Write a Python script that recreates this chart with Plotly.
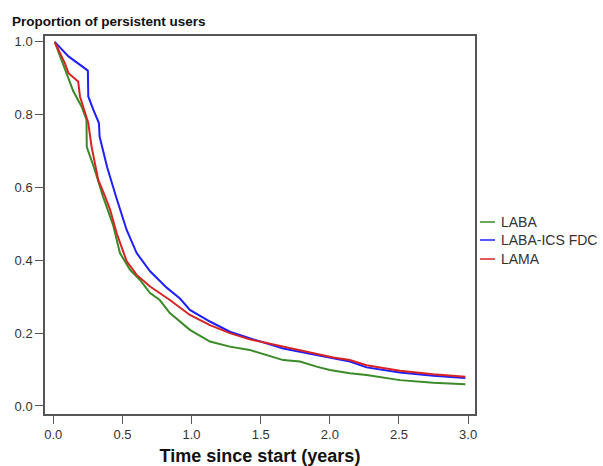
import plotly.graph_objects as go

# Kaplan-Meier style persistence curves
laba_t = [0.01, 0.072, 0.145, 0.205, 0.24, 0.242, 0.30, 0.36, 0.434, 0.482, 0.555, 0.627,
          0.70, 0.77, 0.843, 0.988, 1.133, 1.277, 1.42, 1.663, 1.784, 1.904, 2.0, 2.145,
          2.266, 2.507, 2.748, 2.98]
laba_y = [1.0, 0.94, 0.864, 0.822, 0.786, 0.712, 0.648, 0.575, 0.495, 0.42, 0.374, 0.346,
          0.31, 0.291, 0.255, 0.209, 0.177, 0.163, 0.154, 0.126, 0.122, 0.108, 0.099, 0.09,
          0.085, 0.071, 0.064, 0.06]

ics_t = [0.01, 0.11, 0.25, 0.253, 0.29, 0.33, 0.335, 0.39, 0.458, 0.53, 0.603, 0.70, 0.82,
         0.916, 0.988, 1.133, 1.277, 1.42, 1.663, 1.784, 1.904, 2.025, 2.145, 2.266, 2.507,
         2.748, 2.98]
ics_y = [1.0, 0.96, 0.921, 0.85, 0.813, 0.777, 0.74, 0.655, 0.57, 0.484, 0.42, 0.37, 0.325,
         0.295, 0.264, 0.232, 0.204, 0.186, 0.158, 0.149, 0.140, 0.129, 0.122, 0.106, 0.092,
         0.083, 0.077]

lama_t = [0.01, 0.085, 0.11, 0.18, 0.193, 0.217, 0.253, 0.277, 0.325, 0.37, 0.41, 0.458,
          0.53, 0.603, 0.70, 0.843, 0.988, 1.133, 1.277, 1.42, 1.663, 1.784, 1.904, 2.025,
          2.145, 2.266, 2.507, 2.748, 2.98]
lama_y = [1.0, 0.94, 0.914, 0.891, 0.85, 0.822, 0.777, 0.712, 0.621, 0.58, 0.54, 0.475,
          0.398, 0.36, 0.328, 0.291, 0.25, 0.222, 0.2, 0.183, 0.163, 0.151, 0.143, 0.133,
          0.126, 0.112, 0.097, 0.087, 0.08]

series_names = ["LABA", "LABA-ICS FDC", "LAMA"]
series_colors = ["#3a8a28", "#1f1fff", "#d62424"]

x_ticks = [0.0, 0.5, 1.0, 1.5, 2.0, 2.5, 3.0]
y_ticks = [0.0, 0.2, 0.4, 0.6, 0.8, 1.0]

FW, FH = 603, 466
ML, MR, MT, MB = 45, 128, 36, 52
PW, PH = FW - ML - MR, FH - MT - MB


def px_x(p):  # page px -> paper x
    return (p - ML) / PW


def px_y(p):  # page px -> paper y
    return 1 - (p - MT) / PH


fig = go.Figure()
for name, xs, ys, col in zip(series_names, [laba_t, ics_t, lama_t],
                             [laba_y, ics_y, lama_y], series_colors):
    fig.add_trace(go.Scatter(x=xs, y=ys, mode="lines", name=name, showlegend=False,
                             line=dict(color=col, width=2)))

# compact legend (short line samples, as in the original)
legend_rows = [222, 240, 259]
shapes, annotations = [], []
for name, col, ry in zip(series_names, series_colors, legend_rows):
    shapes.append(dict(type="line", xref="paper", yref="paper",
                       x0=px_x(480), x1=px_x(495), y0=px_y(ry), y1=px_y(ry),
                       line=dict(color=col, width=1.5)))
    annotations.append(dict(text=name, xref="paper", yref="paper", x=px_x(499), y=px_y(ry),
                            xanchor="left", yanchor="middle", showarrow=False,
                            font=dict(family="Liberation Sans, Arial, sans-serif", size=14,
                                      color="#333333")))

annotations.append(dict(text="<b>Proportion of persistent users</b>", xref="paper", yref="paper",
                        x=px_x(10), y=1.0, xanchor="left", yanchor="bottom", yshift=5,
                        showarrow=False,
                        font=dict(family="Liberation Sans, Arial, sans-serif",
                                  size=13.5, color="#111111")))

axis_font = dict(family="Liberation Sans, Arial, sans-serif", size=13, color="#333333")
fig.update_layout(
    width=FW, height=FH,
    margin=dict(l=ML, r=MR, t=MT, b=MB),
    paper_bgcolor="white", plot_bgcolor="white",
    font=axis_font,
    showlegend=False,
    xaxis=dict(range=[-0.06, 3.05], tickvals=x_ticks, tickformat=".1f", automargin=False,
               showgrid=False, zeroline=False, showline=True, linecolor="#555555",
               linewidth=1.5, mirror=True, ticks="outside", ticklen=8, tickcolor="#555555",
               title=dict(text="<b>Time since start (years)</b>",
                          font=dict(family="Liberation Sans, Arial, sans-serif", size=18,
                                    color="#111111"), standoff=8)),
    yaxis=dict(range=[-0.022, 1.016], tickvals=y_ticks, tickformat=".1f", automargin=False,
               showgrid=False, zeroline=False, showline=True, linecolor="#555555",
               linewidth=1.5, mirror=True, ticks="outside", ticklen=8, tickcolor="#555555"),
    shapes=shapes,
    annotations=annotations,
)

fig.write_html("out.html", config={"displayModeBar": False},
               post_script="document.body.style.margin='0';document.body.style.overflow='hidden';")
